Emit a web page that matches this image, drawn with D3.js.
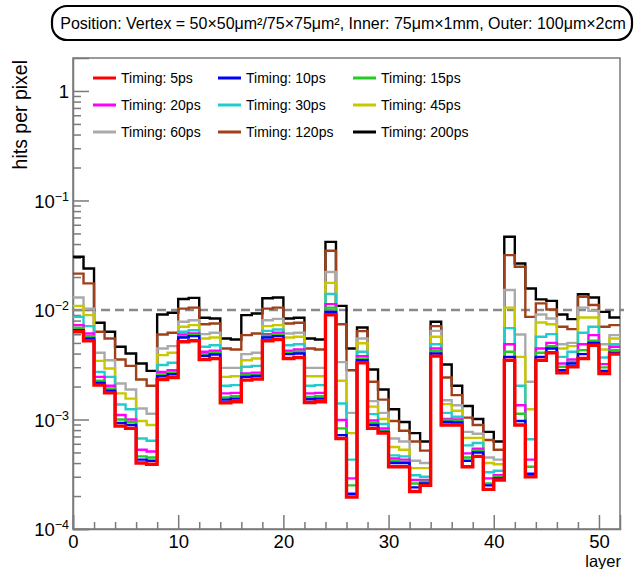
<!DOCTYPE html>
<html><head><meta charset="utf-8">
<script src="https://cdn.jsdelivr.net/npm/d3@7"></script>
<style>
body{margin:0;background:#fff}
svg{display:block}
text{font-family:"Liberation Sans",Arial,Helvetica,sans-serif;fill:#000}
</style>
</head><body>
<svg id="c" width="635" height="569"></svg>
<script>
// ---------------- data ----------------
const layers = d3.range(52); // layer index (bin) 0..51
const seriesNames = ["Timing: 5ps","Timing: 10ps","Timing: 15ps","Timing: 20ps","Timing: 30ps","Timing: 45ps","Timing: 60ps","Timing: 120ps","Timing: 200ps"];
const seriesColors = ["#ff0000","#0000ff","#22cc22","#ff00ff","#22cccc","#c8c800","#aaaaaa","#a0401a","#000000"];

const t5 = [0.00632,0.00523,0.00206,0.00175,0.00087,0.00083,0.00040,0.00039,0.00232,0.00242,
0.00512,0.00523,0.00353,0.00360,0.00142,0.00145,0.00229,0.00234,0.00523,0.00538,
0.00360,0.00368,0.00143,0.00145,0.00904,0.00067,0.000196,0.00330,0.00083,0.00075,
0.00037,0.00037,0.00022,0.00025,0.00379,0.00089,0.00089,0.00037,0.00046,0.00023,
0.00028,0.00348,0.00089,0.00030,0.00348,0.00407,0.00267,0.00303,0.00360,0.00477,
0.00263,0.00395];
const t10 = [0.00654,0.00549,0.00216,0.00183,0.00093,0.00089,0.00043,0.00042,0.00248,0.00259,
0.00561,0.00577,0.00381,0.00392,0.00152,0.00155,0.00245,0.00250,0.00561,0.00577,
0.00395,0.00401,0.00153,0.00155,0.00962,0.00072,0.00021,0.00348,0.00089,0.00077,
0.00040,0.00040,0.00024,0.00026,0.00401,0.00095,0.00094,0.00042,0.00050,0.00025,
0.00029,0.00373,0.00097,0.00032,0.00373,0.00445,0.00282,0.00325,0.00395,0.00501,
0.00278,0.00407];
const t15 = [0.00687,0.00577,0.00226,0.00192,0.00100,0.00095,0.00046,0.00045,0.00259,0.00270,
0.00577,0.00590,0.00395,0.00407,0.00159,0.00163,0.00254,0.00259,0.00582,0.00598,
0.00407,0.00416,0.00161,0.00163,0.0105,0.00083,0.00025,0.00360,0.00093,0.00080,
0.00042,0.00041,0.00026,0.00027,0.00421,0.00099,0.00097,0.00045,0.00052,0.00026,
0.00030,0.00416,0.00113,0.00037,0.00407,0.00468,0.00303,0.00336,0.00430,0.00523,
0.00299,0.00430];
const t20 = [0.00727,0.00610,0.00245,0.00203,0.00110,0.00100,0.00053,0.00051,0.00272,0.00282,
0.00598,0.00610,0.00416,0.00424,0.00173,0.00175,0.00263,0.00268,0.00602,0.00619,
0.00424,0.00436,0.00173,0.00175,0.0113,0.00099,0.00029,0.00379,0.00098,0.00083,
0.00044,0.00043,0.00028,0.00028,0.00445,0.00101,0.00100,0.00049,0.00054,0.00029,
0.00031,0.00487,0.00135,0.00043,0.00445,0.00501,0.00325,0.00353,0.00487,0.00590,
0.00320,0.00461];
const t30 = [0.00866,0.00712,0.00272,0.00245,0.00137,0.00124,0.00067,0.00064,0.00314,0.00330,
0.00632,0.00654,0.00461,0.00477,0.00203,0.00206,0.00303,0.00309,0.00645,0.00663,
0.00477,0.00487,0.00203,0.00206,0.0140,0.00140,0.00043,0.00416,0.00112,0.00091,
0.00047,0.00046,0.00031,0.00030,0.00487,0.00115,0.00106,0.00058,0.00061,0.00033,
0.00034,0.00683,0.00203,0.00066,0.00569,0.00602,0.00373,0.00416,0.00619,0.00702,
0.00368,0.00487];
const t45 = [0.0109,0.00897,0.00343,0.00292,0.00173,0.00155,0.00097,0.00089,0.00387,0.00407,
0.00702,0.00727,0.00549,0.00561,0.00245,0.00248,0.00348,0.00360,0.00712,0.00727,
0.00561,0.00569,0.00248,0.00248,0.0177,0.00226,0.00075,0.00497,0.00131,0.00101,
0.00056,0.00053,0.00036,0.00036,0.00569,0.00138,0.00120,0.00068,0.00068,0.00040,
0.00039,0.0105,0.00373,0.00124,0.00769,0.00742,0.00445,0.00468,0.00854,0.00854,
0.00436,0.00549];
const t60 = [0.0130,0.0103,0.00407,0.00348,0.00213,0.00188,0.00126,0.00113,0.00445,0.00468,
0.00780,0.00807,0.00602,0.00619,0.00296,0.00296,0.00395,0.00407,0.00807,0.00830,
0.00610,0.00619,0.00296,0.00296,0.0222,0.00334,0.00115,0.00549,0.00147,0.00115,
0.00067,0.00063,0.00042,0.00040,0.00645,0.00150,0.00135,0.00077,0.00074,0.00045,
0.00043,0.0152,0.00598,0.00221,0.00910,0.00836,0.00487,0.00501,0.0105,0.00982,
0.00487,0.00590];
const t120 = [0.0215,0.0175,0.00632,0.00549,0.00353,0.00309,0.00232,0.00203,0.00598,0.00619,
0.0103,0.0105,0.00742,0.00753,0.00445,0.00436,0.00590,0.00610,0.0103,0.0105,
0.00753,0.00764,0.00445,0.00436,0.0347,0.00742,0.00282,0.00641,0.00221,0.00152,
0.00097,0.00079,0.00063,0.00052,0.00712,0.00242,0.00167,0.00104,0.00089,0.00065,
0.00053,0.0317,0.0248,0.00866,0.0115,0.0101,0.00702,0.00668,0.0132,0.0111,
0.00702,0.00727];
const t200 = [0.0306,0.0239,0.00764,0.00632,0.00461,0.00401,0.00325,0.00278,0.00910,0.00943,
0.0126,0.0129,0.00848,0.00836,0.00549,0.00538,0.00897,0.00929,0.0128,0.0130,
0.00836,0.00848,0.00549,0.00538,0.0419,0.0109,0.00445,0.00692,0.00286,0.00188,
0.00124,0.00095,0.00075,0.00063,0.00780,0.00318,0.00203,0.00133,0.00101,0.00077,
0.00063,0.0466,0.0266,0.0157,0.0125,0.0121,0.00910,0.00825,0.0139,0.0130,
0.00962,0.00854];

const xTickValues = [0,10,20,30,40,50];
const xTickLabels = ["0","10","20","30","40","50"];
const yTickValues = [1e-4,1e-3,1e-2,1e-1,1];
const yTickBase = ["10","10","10","10","1"];
const yTickExp  = ["\u22124","\u22123","\u22122","\u22121",""];
const refLevel = 1e-2;
const titleText = "Position: Vertex = 50\u00d750\u03bcm\u00b2/75\u00d775\u03bcm\u00b2, Inner: 75\u03bcm\u00d71mm, Outer: 100\u03bcm\u00d72cm";
const xTitle = "layer";
const yTitle = "hits per pixel";

const seriesData = [t5,t10,t15,t20,t30,t45,t60,t120,t200];

// ---------------- layout ----------------
const svg = d3.select("#c");
const L = 73, R = 620, T = 58, B = 529;
const x = d3.scaleLinear().domain([0,52]).range([L,R]);
const y = d3.scaleLog().domain([1e-4,2]).range([B,T]);
const axisColor = "#7a7a7a";

// title box
svg.append("rect").attr("x",52).attr("y",6).attr("width",580).attr("height",34)
  .attr("rx",15).attr("ry",15).attr("fill","#fff").attr("stroke","#000").attr("stroke-width",2.2);
svg.append("text").attr("x",343).attr("y",29).attr("text-anchor","middle")
  .style("font-size","16px").text(titleText);

// frame
svg.append("rect").attr("x",L).attr("y",T).attr("width",R-L).attr("height",B-T)
  .attr("fill","none").attr("stroke",axisColor).attr("stroke-width",1.5);

// x axis (major + minor)
const xMinor = d3.range(2,52,2).filter(v => v % 10 !== 0);
const gxMinor = svg.append("g").attr("transform",`translate(0,${B})`)
  .call(d3.axisBottom(x).tickValues(xMinor).tickSize(-7).tickFormat(""));
gxMinor.select(".domain").remove();
const gx = svg.append("g").attr("transform",`translate(0,${B})`)
  .call(d3.axisBottom(x).tickValues(xTickValues).tickSize(-14).tickPadding(6)
    .tickFormat((d,i) => xTickLabels[i]));
[gx,gxMinor].forEach(g => {
  g.selectAll("line").attr("stroke",axisColor).attr("stroke-width",1.5);
  g.select(".domain").attr("stroke",axisColor).attr("stroke-width",1.5);
});
gx.selectAll("text").attr("fill","#000").style("font-size","18.5px").attr("font-family",null);

// y axis (major + minor)
const yMinor = [];
[1e-4,1e-3,1e-2,1e-1,1].forEach(dec => { for (let k=2;k<=9;k++){ const v=dec*k; if (v<2) yMinor.push(v);} });
const gyMinor = svg.append("g").attr("transform",`translate(${L},0)`)
  .call(d3.axisLeft(y).tickValues(yMinor).tickSize(-8).tickFormat(""));
gyMinor.select(".domain").remove();
const gy = svg.append("g").attr("transform",`translate(${L},0)`)
  .call(d3.axisLeft(y).tickValues(yTickValues).tickSize(-16).tickPadding(4).tickFormat(""));
[gy,gyMinor].forEach(g => {
  g.selectAll("line").attr("stroke",axisColor).attr("stroke-width",1.5);
  g.select(".domain").attr("stroke",axisColor).attr("stroke-width",1.5);
});
gy.selectAll(".tick text").each(function(d,i){
  const t = d3.select(this).attr("fill","#000").attr("font-family",null)
    .style("font-size","18.5px").attr("dy","0.36em");
  t.append("tspan").text(yTickBase[i]);
  if (yTickExp[i]) t.append("tspan").attr("dy","-0.55em").style("font-size","12.5px").text(yTickExp[i]);
});

// axis titles
svg.append("text").attr("x",621).attr("y",566.5).attr("text-anchor","end")
  .style("font-size","16.5px").text(xTitle);
svg.append("text").attr("transform",`translate(27,${T+2}) rotate(-90)`).attr("text-anchor","end")
  .style("font-size","19.5px").text(yTitle);

// reference dashed line
svg.append("line").attr("x1",L).attr("x2",624).attr("y1",y(refLevel)).attr("y2",y(refLevel))
  .attr("stroke","#8a8a8a").attr("stroke-width",2.4).attr("stroke-dasharray","9,5");

// histograms (step lines)
const line = d3.line().x(d => x(d[0])).y(d => y(d[1])).curve(d3.curveStepAfter);
const order = d3.range(seriesData.length).reverse();
svg.append("g").selectAll("path").data(order).join("path")
  .attr("d", i => {
    const vals = seriesData[i];
    const pts = layers.map(l => [l, vals[l]]);
    pts.push([layers.length, vals[vals.length-1]]);
    return line(pts);
  })
  .attr("fill","none")
  .attr("stroke", i => seriesColors[i])
  .attr("stroke-width", i => i === 0 ? 3.4 : 2.4)
  .attr("stroke-linejoin","miter");

// legend
const legCols = [93, 218, 353];
const legRows = [78, 105, 132];
const leg = svg.append("g").selectAll("g").data(seriesNames).join("g")
  .attr("transform",(d,i) => `translate(${legCols[i%3]},${legRows[Math.floor(i/3)]})`);
leg.append("line").attr("x1",0).attr("x2",23).attr("y1",0).attr("y2",0)
  .attr("stroke",(d,i) => seriesColors[i]).attr("stroke-width",3);
leg.append("text").attr("x",28).attr("y",5).style("font-size","14px").text(d => d);
</script>
</body></html>
